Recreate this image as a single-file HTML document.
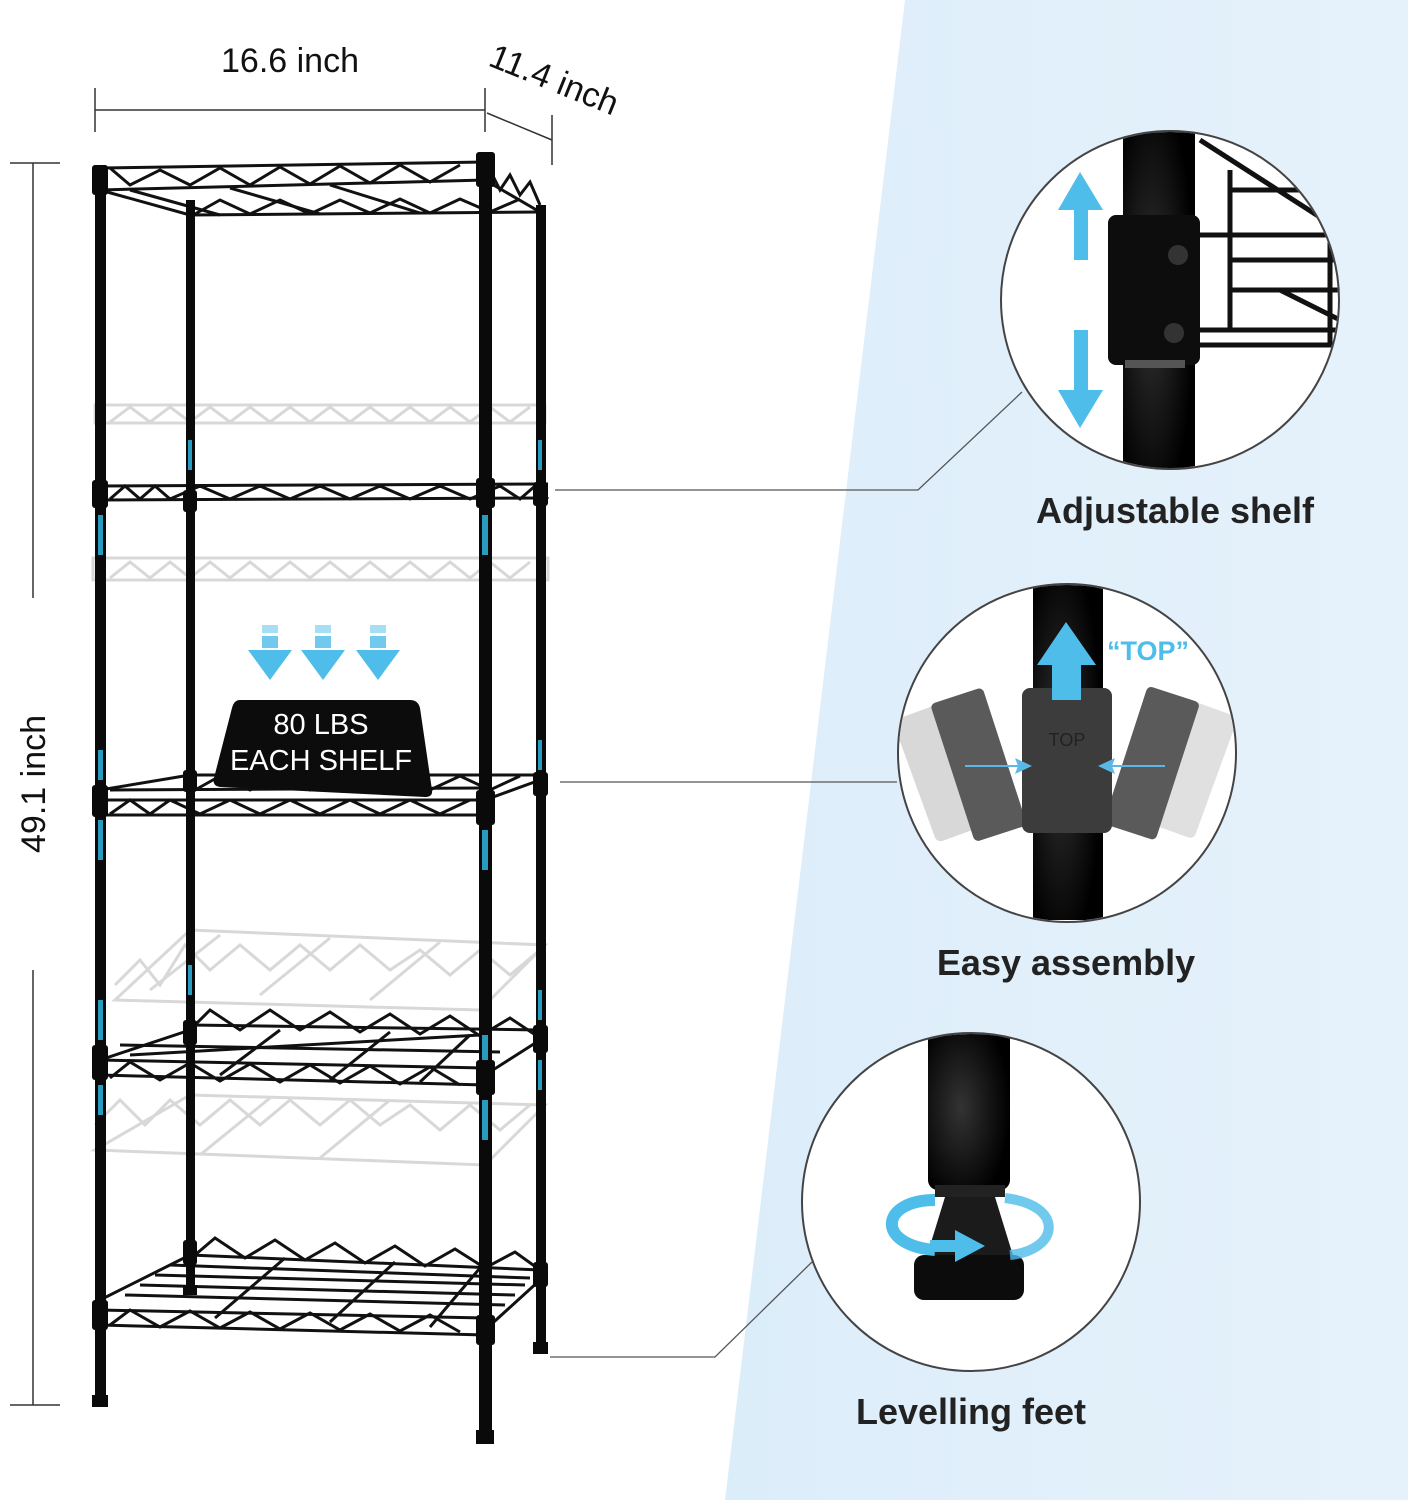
<!DOCTYPE html>
<html><head><meta charset="utf-8"><style>
html,body{margin:0;padding:0;background:#fff;}
svg{display:block;}
text{font-family:"Liberation Sans","DejaVu Sans",sans-serif;}
</style></head><body>
<svg width="1408" height="1500" viewBox="0 0 1408 1500" xmlns="http://www.w3.org/2000/svg">
<defs>
<linearGradient id="bg" x1="0" y1="0" x2="1" y2="0">
<stop offset="0" stop-color="#dcedfa"/><stop offset="1" stop-color="#e6f2fb"/></linearGradient>
<radialGradient id="pole" cx="0.4" cy="0.5" r="0.6"><stop offset="0" stop-color="#333"/><stop offset="1" stop-color="#000"/></radialGradient>
</defs>
<rect width="1408" height="1500" fill="#fff"/>
<polygon points="905,0 1408,0 1408,1500 725,1500" fill="url(#bg)"/>

<!-- dimensions -->
<text x="290" y="72" font-size="34" text-anchor="middle" fill="#111">16.6 inch</text>
<line x1="95" y1="110" x2="485" y2="110" stroke="#333" stroke-width="1.5"/>
<line x1="95" y1="88" x2="95" y2="132" stroke="#333" stroke-width="1.5"/>
<line x1="485" y1="88" x2="485" y2="132" stroke="#333" stroke-width="1.5"/>
<line x1="487" y1="113" x2="552" y2="140" stroke="#333" stroke-width="1.5"/>
<line x1="552" y1="115" x2="552" y2="165" stroke="#333" stroke-width="1.5"/>
<text x="487" y="65" font-size="34" fill="#111" transform="rotate(22 487 65)">11.4 inch</text>
<line x1="33" y1="163" x2="33" y2="598" stroke="#333" stroke-width="1.5"/>
<line x1="33" y1="970" x2="33" y2="1405" stroke="#333" stroke-width="1.5"/>
<line x1="10" y1="163" x2="60" y2="163" stroke="#333" stroke-width="1.5"/>
<line x1="10" y1="1405" x2="60" y2="1405" stroke="#333" stroke-width="1.5"/>
<text x="45" y="784" font-size="34" fill="#111" text-anchor="middle" transform="rotate(-90 45 784)">49.1 inch</text>

<!-- ghost shelves -->
<g stroke="#d8d8d8" stroke-width="3" fill="none">
<rect x="95" y="405" width="450" height="18"/>
<polyline points="110,422 130,407 150,422 170,407 190,422 210,407 230,422 250,407 270,422 290,407 310,422 330,407 350,422 370,407 390,422 410,407 430,422 450,407 470,422 490,407 510,422 530,407"/>
<rect x="93" y="558" width="455" height="22"/>
<polyline points="110,578 130,562 150,578 170,562 190,578 210,562 230,578 250,562 270,578 290,562 310,578 330,562 350,578 370,562 390,578 410,562 430,578 450,562 470,578 490,562 510,578 530,562"/>
<polygon points="115,1000 480,1010 545,945 190,930"/>
<polyline points="115,985 140,960 160,985 185,945 210,970 240,945 270,970 300,945 330,970 360,945 390,970 420,950 450,975 480,950 510,975 540,950"/>
<line x1="150" y1="990" x2="220" y2="935"/><line x1="260" y1="995" x2="330" y2="938"/><line x1="370" y1="1000" x2="440" y2="942"/>
<polygon points="95,1150 485,1165 545,1105 190,1095"/>
<polyline points="95,1125 120,1100 145,1125 170,1100 200,1125 230,1100 260,1125 290,1100 320,1125 350,1100 380,1125 410,1105 440,1130 470,1105 500,1130 530,1105"/>
<line x1="200" y1="1155" x2="270" y2="1098"/><line x1="320" y1="1158" x2="390" y2="1100"/>
</g>

<!-- black shelves -->
<g stroke="#111" stroke-width="3" fill="none">
<!-- top -->
<line x1="100" y1="168" x2="485" y2="162"/>
<line x1="100" y1="190" x2="485" y2="180"/>
<line x1="190" y1="215" x2="540" y2="212"/>
<line x1="100" y1="190" x2="190" y2="215"/><line x1="485" y1="180" x2="540" y2="212"/>
<polyline points="110,168 130,185 160,170 190,185 220,168 250,185 280,167 310,184 340,166 370,183 400,165 430,182 460,165"/>
<polyline points="195,214 220,200 250,214 280,200 310,214 340,200 370,213 400,199 430,213 460,199 490,212 520,199"/>
<polyline points="490,170 500,190 510,175 520,195 530,182 540,205"/>
<line x1="130" y1="190" x2="220" y2="215"/><line x1="230" y1="188" x2="320" y2="214"/><line x1="330" y1="185" x2="420" y2="213"/>
<!-- 2 -->
<line x1="95" y1="486" x2="548" y2="484"/>
<line x1="95" y1="500" x2="548" y2="498"/>
<polyline points="110,499 125,486 140,499 155,486 170,499 200,486 230,499 260,486 290,499 320,486 350,499 380,486 410,499 440,486 470,499 500,486 520,499 535,486 548,499"/>
<!-- 3 -->
<line x1="100" y1="790" x2="190" y2="775"/>
<line x1="190" y1="775" x2="540" y2="775"/>
<line x1="100" y1="800" x2="485" y2="800"/>
<line x1="100" y1="815" x2="485" y2="815"/>
<line x1="485" y1="800" x2="540" y2="780"/>
<polyline points="110,814 130,800 150,814 170,800 200,814 230,800 260,814 290,800 320,814 350,800 380,814 410,800 440,814 470,800"/>
<polyline points="195,790 220,776 250,790 280,776 310,790 340,776 370,790 400,776 430,790 460,776 490,790 520,776"/>
<line x1="110" y1="790" x2="485" y2="788"/>
<!-- 4 -->
<line x1="100" y1="1060" x2="190" y2="1030"/>
<line x1="190" y1="1025" x2="540" y2="1030"/>
<line x1="100" y1="1075" x2="485" y2="1085"/>
<line x1="100" y1="1060" x2="485" y2="1068"/>
<line x1="485" y1="1075" x2="540" y2="1040"/>
<polyline points="195,1025 210,1010 240,1030 270,1010 300,1030 330,1012 360,1032 390,1014 420,1034 450,1016 480,1036 510,1018 540,1038"/>
<polyline points="110,1078 130,1062 160,1080 190,1063 220,1081 250,1064 280,1082 310,1065 340,1083 370,1066 400,1084 430,1067 460,1085"/>
<line x1="130" y1="1055" x2="480" y2="1035"/><line x1="120" y1="1045" x2="500" y2="1052"/>
<line x1="220" y1="1075" x2="280" y2="1030"/><line x1="330" y1="1080" x2="390" y2="1032"/><line x1="420" y1="1082" x2="470" y2="1035"/>
<!-- 5 -->
<line x1="100" y1="1300" x2="190" y2="1255"/>
<line x1="190" y1="1255" x2="540" y2="1270"/>
<line x1="100" y1="1325" x2="485" y2="1335"/>
<line x1="100" y1="1310" x2="485" y2="1318"/>
<line x1="485" y1="1330" x2="540" y2="1280"/>
<polyline points="195,1255 215,1238 245,1258 275,1240 305,1260 335,1243 365,1263 395,1246 425,1266 455,1249 485,1268 515,1252 540,1270"/>
<polyline points="110,1325 130,1310 160,1327 190,1311 220,1328 250,1312 280,1329 310,1313 340,1330 370,1314 400,1331 430,1315 460,1332"/>
<line x1="125" y1="1295" x2="505" y2="1305"/><line x1="140" y1="1285" x2="515" y2="1295"/><line x1="155" y1="1275" x2="525" y2="1285"/><line x1="170" y1="1265" x2="530" y2="1278"/>
<line x1="215" y1="1318" x2="285" y2="1258"/><line x1="330" y1="1322" x2="395" y2="1262"/><line x1="430" y1="1327" x2="480" y2="1268"/>
</g>

<!-- posts -->
<g fill="#0a0a0a">
<rect x="95" y="165" width="11" height="1240"/>
<rect x="186" y="200" width="9" height="1095"/>
<rect x="479" y="152" width="13" height="1285"/>
<rect x="536" y="205" width="10" height="1148"/>
<rect x="92" y="1395" width="16" height="12"/>
<rect x="476" y="1430" width="18" height="14"/>
<rect x="183" y="1285" width="14" height="10"/>
<rect x="533" y="1342" width="15" height="12"/>
<!-- sleeves -->
<rect x="92" y="165" width="16" height="30" rx="3"/><rect x="476" y="152" width="19" height="35" rx="3"/>
<rect x="92" y="480" width="16" height="28" rx="3"/><rect x="476" y="478" width="19" height="30" rx="3"/>
<rect x="183" y="490" width="14" height="22" rx="3"/><rect x="533" y="482" width="15" height="24" rx="3"/>
<rect x="92" y="785" width="16" height="32" rx="3"/><rect x="476" y="790" width="19" height="35" rx="3"/>
<rect x="183" y="770" width="14" height="22" rx="3"/><rect x="533" y="772" width="15" height="24" rx="3"/>
<rect x="92" y="1045" width="16" height="35" rx="3"/><rect x="476" y="1060" width="19" height="35" rx="3"/>
<rect x="183" y="1020" width="14" height="25" rx="3"/><rect x="533" y="1025" width="15" height="28" rx="3"/>
<rect x="92" y="1300" width="16" height="30" rx="3"/><rect x="476" y="1315" width="19" height="30" rx="3"/>
<rect x="183" y="1240" width="14" height="25" rx="3"/><rect x="533" y="1262" width="15" height="25" rx="3"/>
</g>
<!-- blue marks on posts -->
<g fill="#2a9bc0">
<rect x="98" y="515" width="5" height="40"/><rect x="482" y="515" width="6" height="40"/><rect x="188" y="440" width="4" height="30"/><rect x="538" y="440" width="4" height="30"/>
<rect x="98" y="820" width="5" height="40"/><rect x="482" y="830" width="6" height="40"/><rect x="98" y="750" width="5" height="30"/><rect x="538" y="740" width="4" height="30"/>
<rect x="98" y="1000" width="5" height="40"/><rect x="482" y="1035" width="6" height="25"/><rect x="98" y="1085" width="5" height="30"/><rect x="482" y="1100" width="6" height="40"/>
<rect x="538" y="990" width="4" height="30"/><rect x="538" y="1060" width="4" height="30"/><rect x="188" y="965" width="4" height="30"/>
</g>

<!-- load arrows -->
<g fill="#4ebde9">
<rect x="262" y="625" width="16" height="8" opacity=".5"/><rect x="262" y="636" width="16" height="12" opacity=".8"/><polygon points="248,650 292,650 270,680"/>
<rect x="315" y="625" width="16" height="8" opacity=".5"/><rect x="315" y="636" width="16" height="12" opacity=".8"/><polygon points="301,650 345,650 323,680"/>
<rect x="370" y="625" width="16" height="8" opacity=".5"/><rect x="370" y="636" width="16" height="12" opacity=".8"/><polygon points="356,650 400,650 378,680"/>
</g>
<path d="M240,700 L410,700 Q418,700 420,708 L432,790 Q433,797 425,797 L220,787 Q212,786 214,778 L232,708 Q234,700 240,700 Z" fill="#0c0c0c"/>
<text x="321" y="734" font-size="29" fill="#fff" text-anchor="middle">80 LBS</text>
<text x="321" y="770" font-size="29" fill="#fff" text-anchor="middle">EACH SHELF</text>

<!-- connector lines -->
<g stroke="#555" stroke-width="1.3" fill="none">
<polyline points="555,490 918,490 1022,392"/>
<line x1="560" y1="782" x2="897" y2="782"/>
<polyline points="550,1357 715,1357 812,1262"/>
</g>

<!-- circle 1 -->
<g>
<circle cx="1170" cy="300" r="169" fill="#fff" stroke="#444" stroke-width="2"/>
<clipPath id="c1"><circle cx="1170" cy="300" r="168"/></clipPath>
<g clip-path="url(#c1)">
<g stroke="#111" stroke-width="5" fill="none">
<line x1="1200" y1="140" x2="1340" y2="230"/><line x1="1195" y1="235" x2="1340" y2="235"/>
<line x1="1195" y1="345" x2="1340" y2="345"/><line x1="1200" y1="330" x2="1340" y2="330"/>
<line x1="1230" y1="170" x2="1230" y2="330"/><line x1="1330" y1="220" x2="1330" y2="345"/>
<line x1="1230" y1="190" x2="1340" y2="190"/><line x1="1230" y1="260" x2="1340" y2="260"/><line x1="1230" y1="290" x2="1340" y2="290"/>
<line x1="1280" y1="290" x2="1340" y2="320"/>
</g>
<rect x="1123" y="120" width="72" height="360" fill="url(#pole)"/>
<rect x="1108" y="215" width="92" height="150" rx="8" fill="#0d0d0d"/>
<rect x="1125" y="360" width="60" height="8" fill="#555"/>
<circle cx="1178" cy="255" r="10" fill="#333"/><circle cx="1174" cy="333" r="10" fill="#333"/>
</g>
<g fill="#4ebde9">
<polygon points="1080,172 1058,210 1074,210 1074,260 1088,260 1088,210 1103,210"/>
<polygon points="1080,428 1058,390 1074,390 1074,330 1088,330 1088,390 1103,390"/>
</g>
</g>
<text x="1175" y="523" font-size="36" font-weight="bold" fill="#222" text-anchor="middle">Adjustable shelf</text>

<!-- circle 2 -->
<circle cx="1067" cy="753" r="169" fill="#fff" stroke="#444" stroke-width="2"/>
<clipPath id="c2"><circle cx="1067" cy="753" r="168"/></clipPath>
<g clip-path="url(#c2)">
<rect x="1033" y="580" width="70" height="340" fill="url(#pole)"/>
<g fill="#d8d8d8" transform="rotate(-20 960 760)"><rect x="910" y="700" width="60" height="130" rx="6"/></g>
<g fill="#e0e0e0" transform="rotate(20 1180 760)"><rect x="1160" y="700" width="60" height="130" rx="6"/></g>
<g fill="#5a5a5a" transform="rotate(-18 985 760)"><rect x="950" y="690" width="55" height="145" rx="5"/></g>
<g fill="#5a5a5a" transform="rotate(18 1150 760)"><rect x="1125" y="690" width="55" height="145" rx="5"/></g>
<rect x="1022" y="688" width="90" height="145" rx="8" fill="#3c3c3c"/>
<text x="1067" y="746" font-size="18" fill="#222" text-anchor="middle">TOP</text>
<g stroke="#5bb8e6" stroke-width="2"><line x1="965" y1="766" x2="1030" y2="766"/><line x1="1100" y1="766" x2="1165" y2="766"/></g>
<polygon points="1032,766 1015,758 1018,766 1015,774" fill="#5bb8e6"/>
<polygon points="1098,766 1115,758 1112,766 1115,774" fill="#5bb8e6"/>
<polygon points="1066,622 1096,665 1081,665 1081,700 1052,700 1052,665 1037,665" fill="#4ebde9"/>
</g>
<text x="1148" y="660" font-size="27" font-weight="bold" fill="#4ebde9" text-anchor="middle">“TOP”</text>
<text x="1066" y="975" font-size="36" font-weight="bold" fill="#222" text-anchor="middle">Easy assembly</text>

<!-- circle 3 -->
<circle cx="971" cy="1202" r="169" fill="#fff" stroke="#444" stroke-width="2"/>
<clipPath id="c3"><circle cx="971" cy="1202" r="168"/></clipPath>
<g clip-path="url(#c3)">
<rect x="928" y="1025" width="82" height="165" rx="10" fill="url(#pole)"/>
<rect x="935" y="1185" width="70" height="12" fill="#222"/>
<polygon points="945,1197 995,1197 1015,1262 925,1262" fill="#1b1b1b"/>
<rect x="914" y="1255" width="110" height="45" rx="10" fill="#0c0c0c"/>
<path d="M935,1200 C880,1200 875,1245 935,1250" stroke="#4ebde9" stroke-width="12" fill="none"/>
<path d="M1005,1198 C1065,1205 1060,1250 1010,1255" stroke="#4ebde9" stroke-width="10" fill="none" opacity=".8"/>
<line x1="930" y1="1246" x2="960" y2="1246" stroke="#4ebde9" stroke-width="12"/>
<polygon points="955,1230 985,1246 955,1262" fill="#4ebde9"/>
</g>
<text x="971" y="1424" font-size="36" font-weight="bold" fill="#222" text-anchor="middle">Levelling feet</text>
</svg>
</body></html>
